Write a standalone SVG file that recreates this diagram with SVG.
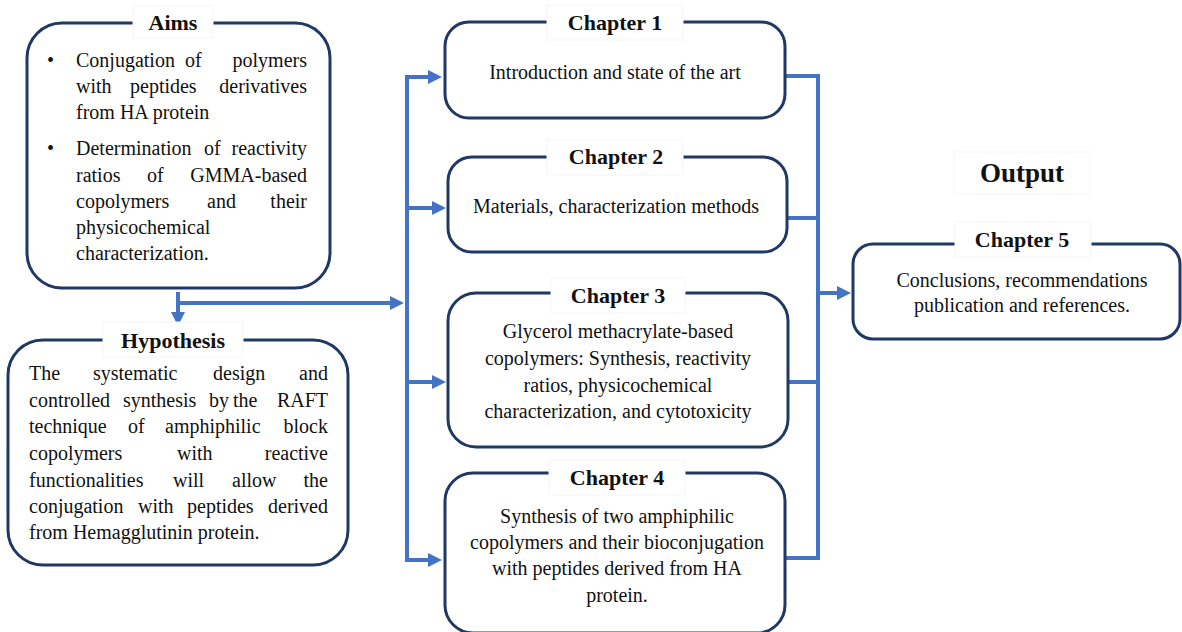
<svg xmlns="http://www.w3.org/2000/svg" width="1182" height="632" viewBox="0 0 1182 632">
<style>
.box{fill:#fff;stroke:#1F3864;stroke-width:3}
.tbg{fill:#fff;stroke:#f6f6f6;stroke-width:1}
.t{font-family:"Liberation Serif","Times New Roman",serif;font-size:20px;fill:#111}
.h{font-family:"Liberation Serif","Times New Roman",serif;font-size:22px;font-weight:bold;fill:#111;text-anchor:middle}
.m{text-anchor:middle}
.e{text-anchor:end}
.conn{stroke:#4472C4;stroke-width:4;fill:none}
</style>
<defs>
<marker id="ah" markerUnits="userSpaceOnUse" markerWidth="16" markerHeight="16" refX="1" refY="8" orient="auto">
<path d="M0,1 L14,8 L0,15 Z" fill="#4472C4"/>
</marker>
</defs>
<rect width="1182" height="632" fill="#fff"/>

<g id="connectors">
<polyline class="conn" points="178,292 178,313" marker-end="url(#ah)"/>
<polyline class="conn" points="176,303 391,303" marker-end="url(#ah)"/>
<polyline class="conn" points="407,77 407,560"/>
<polyline class="conn" points="405,77 429,77" marker-end="url(#ah)"/>
<polyline class="conn" points="405,208 433,208" marker-end="url(#ah)"/>
<polyline class="conn" points="405,382 433,382" marker-end="url(#ah)"/>
<polyline class="conn" points="405,560 429,560" marker-end="url(#ah)"/>
<polyline class="conn" points="785,76 818,76 818,558 785,558"/>
<polyline class="conn" points="787,218 818,218"/>
<polyline class="conn" points="788,382 818,382"/>
<polyline class="conn" points="816,293 838,293" marker-end="url(#ah)"/>
</g>

<g id="aims">
<rect class="box" x="27" y="23" width="303" height="265" rx="35"/>
<rect class="tbg" x="133" y="6" width="80" height="32"/>
<text class="h" x="173" y="30">Aims</text>
<text class="t" x="47" y="67">•</text>
<text class="t" x="76" y="67">Conjugation</text><text class="t" x="185" y="67">of</text><text class="t e" x="307" y="67">polymers</text>
<text class="t" x="76" y="93">with</text><text class="t" x="130" y="93">peptides</text><text class="t e" x="307" y="93">derivatives</text>
<text class="t" x="76" y="119">from HA protein</text>
<text class="t" x="47" y="155">•</text>
<text class="t" x="76" y="155">Determination</text><text class="t" x="204" y="155">of</text><text class="t e" x="307" y="155">reactivity</text>
<text class="t" x="76" y="182">ratios</text><text class="t" x="147" y="182">of</text><text class="t e" x="307" y="182">GMMA-based</text>
<text class="t" x="76" y="208">copolymers</text><text class="t" x="207" y="208">and</text><text class="t e" x="307" y="208">their</text>
<text class="t" x="76" y="234">physicochemical</text>
<text class="t" x="76" y="260">characterization.</text>
</g>

<g id="hypothesis">
<rect class="box" x="8" y="340" width="340" height="225" rx="35"/>
<rect class="tbg" x="103" y="322" width="140" height="35"/>
<text class="h" x="173" y="348">Hypothesis</text>
<text class="t" x="29" y="380">The</text><text class="t" x="93" y="380">systematic</text><text class="t" x="213" y="380">design</text><text class="t e" x="328" y="380">and</text>
<text class="t" x="29" y="407">controlled</text><text class="t" x="123" y="407">synthesis</text><text class="t" x="209" y="407">by</text><text class="t" x="233" y="407">the</text><text class="t e" x="328" y="407">RAFT</text>
<text class="t" x="29" y="433">technique</text><text class="t" x="128" y="433">of</text><text class="t" x="165" y="433">amphiphilic</text><text class="t e" x="328" y="433">block</text>
<text class="t" x="29" y="460">copolymers</text><text class="t" x="177" y="460">with</text><text class="t e" x="328" y="460">reactive</text>
<text class="t" x="29" y="487">functionalities</text><text class="t" x="173" y="487">will</text><text class="t" x="232" y="487">allow</text><text class="t e" x="328" y="487">the</text>
<text class="t" x="29" y="513">conjugation</text><text class="t" x="138" y="513">with</text><text class="t" x="187" y="513">peptides</text><text class="t e" x="328" y="513">derived</text>
<text class="t" x="29" y="539">from Hemagglutinin protein.</text>
</g>

<g id="chapter1">
<rect class="box" x="445" y="22" width="340" height="96" rx="24"/>
<rect class="tbg" x="547" y="5" width="136" height="35"/>
<text class="h" x="615" y="30">Chapter 1</text>
<text class="t m" x="615" y="79">Introduction and state of the art</text>
</g>

<g id="chapter2">
<rect class="box" x="448" y="157" width="339" height="95" rx="24"/>
<rect class="tbg" x="547" y="140" width="136" height="35"/>
<text class="h" x="616" y="164">Chapter 2</text>
<text class="t m" x="616" y="213">Materials, characterization methods</text>
</g>

<g id="chapter3">
<rect class="box" x="448" y="293" width="340" height="154" rx="28"/>
<rect class="tbg" x="551" y="278" width="134" height="35"/>
<text class="h" x="618" y="303">Chapter 3</text>
<text class="t m" x="618" y="338">Glycerol methacrylate-based</text>
<text class="t m" x="618" y="365">copolymers: Synthesis, reactivity</text>
<text class="t m" x="618" y="392">ratios, physicochemical</text>
<text class="t m" x="618" y="418">characterization, and cytotoxicity</text>
</g>

<g id="chapter4">
<rect class="box" x="445" y="473" width="340" height="160" rx="28"/>
<rect class="tbg" x="549" y="460" width="136" height="35"/>
<text class="h" x="617" y="485">Chapter 4</text>
<text class="t m" x="617" y="523">Synthesis of two amphiphilic</text>
<text class="t m" x="617" y="549">copolymers and their bioconjugation</text>
<text class="t m" x="617" y="575">with peptides derived from HA</text>
<text class="t m" x="617" y="602">protein.</text>
</g>

<g id="output">
<rect class="tbg" x="954" y="152" width="136" height="42"/>
<text class="h" x="1022" y="182" style="font-size:27px">Output</text>
</g>

<g id="chapter5">
<rect class="box" x="853" y="244" width="327" height="95" rx="20"/>
<rect class="tbg" x="955" y="222" width="136" height="35"/>
<text class="h" x="1022" y="247">Chapter 5</text>
<text class="t m" x="1022" y="287">Conclusions, recommendations</text>
<text class="t m" x="1022" y="312">publication and references.</text>
</g>
</svg>
